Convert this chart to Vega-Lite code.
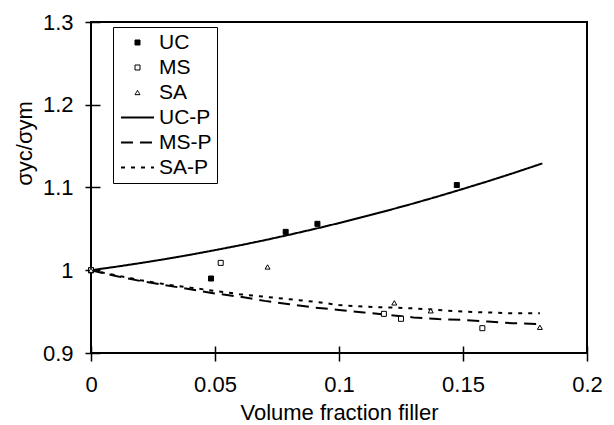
{
  "$schema": "https://vega.github.io/schema/vega-lite/v6.json",
  "width": 496,
  "height": 331,
  "autosize": {"type": "none"},
  "padding": {"left": 91, "top": 22, "right": 27, "bottom": 72},
  "background": "white",
  "config": {
    "font": "Liberation Sans",
    "view": {"stroke": "black", "strokeWidth": 2},
    "axis": {
      "grid": false,
      "domain": false,
      "tickColor": "black",
      "tickWidth": 1.5,
      "tickSize": 15,
      "labelColor": "black",
      "labelFontSize": 22,
      "labelFont": "Liberation Sans",
      "labelFlush": false,
      "labelOverlap": false,
      "titleColor": "black",
      "titleFontSize": 22,
      "titleFontWeight": "normal",
      "titleFont": "Liberation Sans"
    },
    "legend": {
      "orient": "none",
      "legendX": 22,
      "legendY": 5,
      "strokeColor": "black",
      "strokeWidth": 1,
      "fillColor": "white",
      "padding": 5,
      "rowPadding": 3,
      "clipHeight": 21,
      "labelFontSize": 21,
      "labelFont": "Liberation Sans",
      "labelColor": "black",
      "labelOffset": 4,
      "symbolOffset": 2,
      "symbolStrokeColor": "black"
    }
  },
  "datasets": {
    "points": [
      {"x": 0, "y": 1, "series": "UC"},
      {"x": 0.0484, "y": 0.990, "series": "UC"},
      {"x": 0.0785, "y": 1.0464, "series": "UC"},
      {"x": 0.0913, "y": 1.0561, "series": "UC"},
      {"x": 0.1475, "y": 1.1030, "series": "UC"},
      {"x": 0, "y": 1, "series": "MS"},
      {"x": 0.0523, "y": 1.0089, "series": "MS"},
      {"x": 0.1181, "y": 0.9473, "series": "MS"},
      {"x": 0.1250, "y": 0.9413, "series": "MS"},
      {"x": 0.1578, "y": 0.9300, "series": "MS"},
      {"x": 0, "y": 1, "series": "SA"},
      {"x": 0.0712, "y": 1.0040, "series": "SA"},
      {"x": 0.1223, "y": 0.9606, "series": "SA"},
      {"x": 0.1370, "y": 0.9510, "series": "SA"},
      {"x": 0.1810, "y": 0.9311, "series": "SA"}
    ],
    "lines": [
      {"x": 0, "y": 1.0, "series": "UC-P"},
      {"x": 0.01, "y": 1.0042, "series": "UC-P"},
      {"x": 0.02, "y": 1.0087, "series": "UC-P"},
      {"x": 0.03, "y": 1.0135, "series": "UC-P"},
      {"x": 0.04, "y": 1.0187, "series": "UC-P"},
      {"x": 0.05, "y": 1.0243, "series": "UC-P"},
      {"x": 0.06, "y": 1.0301, "series": "UC-P"},
      {"x": 0.07, "y": 1.0363, "series": "UC-P"},
      {"x": 0.08, "y": 1.0429, "series": "UC-P"},
      {"x": 0.09, "y": 1.0498, "series": "UC-P"},
      {"x": 0.10, "y": 1.0570, "series": "UC-P"},
      {"x": 0.11, "y": 1.0646, "series": "UC-P"},
      {"x": 0.12, "y": 1.0725, "series": "UC-P"},
      {"x": 0.13, "y": 1.0807, "series": "UC-P"},
      {"x": 0.14, "y": 1.0893, "series": "UC-P"},
      {"x": 0.15, "y": 1.0983, "series": "UC-P"},
      {"x": 0.16, "y": 1.1075, "series": "UC-P"},
      {"x": 0.17, "y": 1.1171, "series": "UC-P"},
      {"x": 0.18, "y": 1.1271, "series": "UC-P"},
      {"x": 0.182, "y": 1.1291, "series": "UC-P"},
      {"x": 0, "y": 1.0, "series": "MS-P"},
      {"x": 0.01, "y": 0.993, "series": "MS-P"},
      {"x": 0.02, "y": 0.987, "series": "MS-P"},
      {"x": 0.03, "y": 0.982, "series": "MS-P"},
      {"x": 0.04, "y": 0.977, "series": "MS-P"},
      {"x": 0.05, "y": 0.972, "series": "MS-P"},
      {"x": 0.06, "y": 0.968, "series": "MS-P"},
      {"x": 0.07, "y": 0.963, "series": "MS-P"},
      {"x": 0.08, "y": 0.959, "series": "MS-P"},
      {"x": 0.09, "y": 0.955, "series": "MS-P"},
      {"x": 0.10, "y": 0.952, "series": "MS-P"},
      {"x": 0.11, "y": 0.949, "series": "MS-P"},
      {"x": 0.12, "y": 0.946, "series": "MS-P"},
      {"x": 0.13, "y": 0.943, "series": "MS-P"},
      {"x": 0.14, "y": 0.941, "series": "MS-P"},
      {"x": 0.15, "y": 0.940, "series": "MS-P"},
      {"x": 0.16, "y": 0.938, "series": "MS-P"},
      {"x": 0.17, "y": 0.936, "series": "MS-P"},
      {"x": 0.181, "y": 0.935, "series": "MS-P"},
      {"x": 0, "y": 1.0, "series": "SA-P"},
      {"x": 0.01, "y": 0.994, "series": "SA-P"},
      {"x": 0.02, "y": 0.988, "series": "SA-P"},
      {"x": 0.03, "y": 0.983, "series": "SA-P"},
      {"x": 0.04, "y": 0.979, "series": "SA-P"},
      {"x": 0.05, "y": 0.975, "series": "SA-P"},
      {"x": 0.06, "y": 0.971, "series": "SA-P"},
      {"x": 0.07, "y": 0.968, "series": "SA-P"},
      {"x": 0.08, "y": 0.965, "series": "SA-P"},
      {"x": 0.09, "y": 0.962, "series": "SA-P"},
      {"x": 0.10, "y": 0.958, "series": "SA-P"},
      {"x": 0.11, "y": 0.956, "series": "SA-P"},
      {"x": 0.12, "y": 0.955, "series": "SA-P"},
      {"x": 0.13, "y": 0.954, "series": "SA-P"},
      {"x": 0.14, "y": 0.952, "series": "SA-P"},
      {"x": 0.15, "y": 0.950, "series": "SA-P"},
      {"x": 0.16, "y": 0.949, "series": "SA-P"},
      {"x": 0.17, "y": 0.948, "series": "SA-P"},
      {"x": 0.181, "y": 0.948, "series": "SA-P"}
    ]
  },
  "encoding": {
    "x": {
      "field": "x",
      "type": "quantitative",
      "scale": {"domain": [0, 0.2], "nice": false, "zero": false},
      "axis": {"title": "Volume fraction filler", "values": [0, 0.05, 0.1, 0.15, 0.2], "format": "~g", "offset": -7, "labelPadding": 13, "titlePadding": 7}
    },
    "y": {
      "field": "y",
      "type": "quantitative",
      "scale": {"domain": [0.9, 1.3], "nice": false, "zero": false},
      "axis": {"title": "σyc/σym", "values": [0.9, 1, 1.1, 1.2, 1.3], "format": "~g", "offset": -9, "labelPadding": 12, "titlePadding": 6, "titleY": 121}
    }
  },
  "layer": [
    {
      "data": {"name": "lines"},
      "mark": {"type": "line", "color": "black", "strokeCap": "butt"},
      "encoding": {
        "strokeDash": {
          "field": "series",
          "type": "nominal",
          "scale": {"domain": ["UC", "MS", "SA", "UC-P", "MS-P", "SA-P"], "range": [[1, 0], [1, 0], [1, 0], [1, 0], [12, 7], [4, 6]]},
          "legend": {"title": null, "symbolStrokeColor": "black"}
        },
        "strokeWidth": {
          "field": "series",
          "type": "nominal",
          "scale": {"type": "ordinal", "domain": ["UC", "MS", "SA", "UC-P", "MS-P", "SA-P"], "range": [1, 1, 1, 2, 2, 2]},
          "legend": {"title": null, "symbolStrokeColor": "black"}
        }
      }
    },
    {
      "data": {"name": "points"},
      "mark": {"type": "point", "filled": true, "strokeWidth": 1, "opacity": 1},
      "encoding": {
        "shape": {
          "field": "series",
          "type": "nominal",
          "scale": {"domain": ["UC", "MS", "SA", "UC-P", "MS-P", "SA-P"], "range": ["square", "square", "triangle-up", "stroke", "stroke", "stroke"]},
          "legend": {"title": null, "symbolStrokeColor": "black"}
        },
        "fill": {
          "field": "series",
          "type": "nominal",
          "scale": {"domain": ["UC", "MS", "SA", "UC-P", "MS-P", "SA-P"], "range": ["black", "white", "white", "black", "black", "black"]},
          "legend": {"title": null, "symbolStrokeColor": "black"}
        },
        "stroke": {
          "field": "series",
          "type": "nominal",
          "scale": {"domain": ["UC", "MS", "SA", "UC-P", "MS-P", "SA-P"], "range": ["black", "black", "black", "black", "black", "black"]},
          "legend": {"title": null}
        },
        "size": {
          "field": "series",
          "type": "nominal",
          "scale": {"type": "ordinal", "domain": ["UC", "MS", "SA", "UC-P", "MS-P", "SA-P"], "range": [25, 25, 25, 1089, 1089, 1089]},
          "legend": {"title": null, "symbolStrokeColor": "black"}
        }
      }
    }
  ]
}
